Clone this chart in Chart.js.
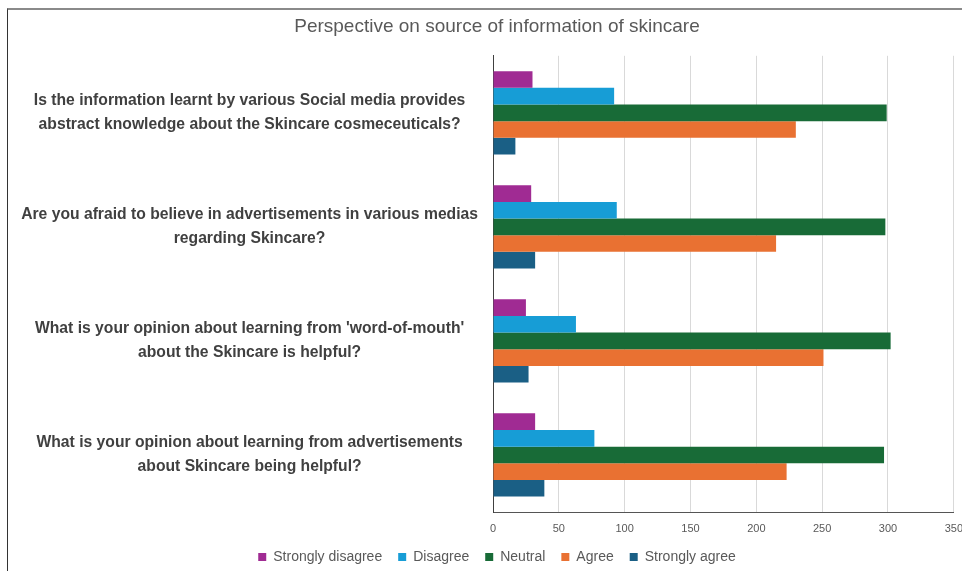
<!DOCTYPE html>
<html>
<head>
<meta charset="utf-8">
<script src="https://cdn.jsdelivr.net/npm/chart.js@4"></script>
<style>
  html, body { margin: 0; padding: 0; background: #fff; overflow: hidden; }
  #frame {
    position: absolute; left: 7px; top: 8px; width: 970px; height: 580px;
    border-top: 2px solid #8a8a8a; border-left: 1px solid #333;
  }
  #chart { position: absolute; left: 0; top: 0; }
</style>
</head>
<body>
<div id="frame"></div>
<canvas id="chart" width="973" height="574"></canvas>
<script>
const questions = [
  ['Is the information learnt by various Social media provides', 'abstract knowledge about the Skincare cosmeceuticals?'],
  ['Are you afraid to believe in advertisements in various medias', 'regarding Skincare?'],
  ["What is your opinion about learning from 'word-of-mouth'", 'about the Skincare is helpful?'],
  ['What is your opinion about learning from advertisements', 'about Skincare being helpful?']
];

const stronglyDisagree = [30, 29, 25, 32];
const disagree = [92, 94, 63, 77];
const neutral = [299, 298, 302, 297];
const agree = [230, 215, 251, 223];
const stronglyAgree = [17, 32, 27, 39];

const xTicks = [0, 50, 100, 150, 200, 250, 300, 350];

const series = [
  { label: 'Strongly disagree', data: stronglyDisagree, color: '#A02B93' },
  { label: 'Disagree', data: disagree, color: '#179DD6' },
  { label: 'Neutral', data: neutral, color: '#186B37' },
  { label: 'Agree', data: agree, color: '#E97132' },
  { label: 'Strongly agree', data: stronglyAgree, color: '#1A5F85' }
];

new Chart(document.getElementById('chart'), {
  type: 'bar',
  data: {
    labels: questions,
    datasets: series.map(s => ({
      label: s.label,
      data: s.data,
      backgroundColor: s.color,
      borderWidth: 0,
      categoryPercentage: 0.73,
      barPercentage: 1.0
    }))
  },
  options: {
    indexAxis: 'y',
    responsive: false,
    animation: false,
    layout: { padding: { left: 21, right: 0, top: 10, bottom: 0 } },
    plugins: {
      title: {
        display: true,
        text: 'Perspective on source of information of skincare',
        color: '#595959',
        font: { family: 'Liberation Sans', size: 19, weight: 'normal' },
        padding: { top: 5, bottom: 18 }
      },
      legend: {
        position: 'bottom',
        labels: {
          color: '#595959',
          font: { family: 'Liberation Sans', size: 14 },
          boxWidth: 8,
          boxHeight: 8,
          padding: 16
        }
      },
      tooltip: { enabled: false }
    },
    scales: {
      x: {
        min: 0,
        max: 350,
        afterBuildTicks: (scale) => { scale.ticks = xTicks.map(v => ({ value: v })); },
        afterFit: (scale) => { scale.height = 22; },
        grid: { color: '#d9d9d9', drawTicks: false },
        border: { display: true, color: '#555' },
        ticks: {
          color: '#595959',
          padding: 10,
          font: { family: 'Liberation Sans', size: 11 }
        }
      },
      y: {
        grid: { display: false, drawTicks: false },
        border: { display: true, color: '#404040' },
        afterFit: (scale) => { scale.width = 472; },
        ticks: {
          color: '#404040',
          crossAlign: 'center',
          padding: 15,
          font: { family: 'Liberation Sans', size: 15.7, weight: 'bold', lineHeight: 1.55 }
        }
      }
    }
  }
});
</script>
</body>
</html>
